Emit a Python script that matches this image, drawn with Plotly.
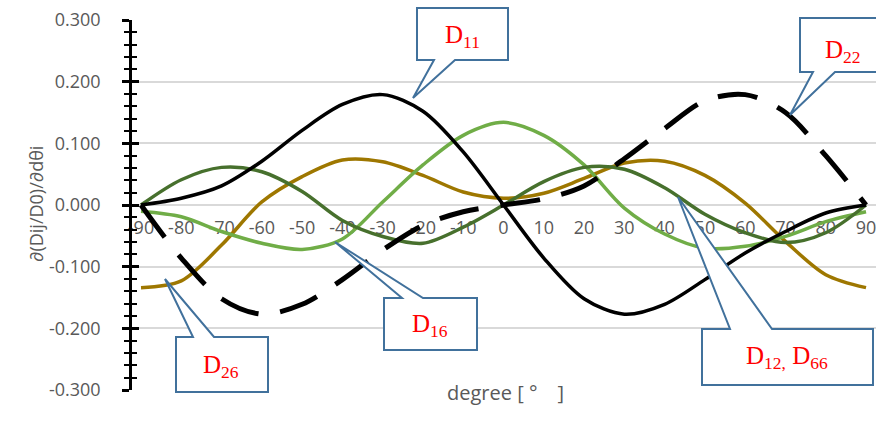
import plotly.graph_objects as go

# ---- data -------------------------------------------------------------
angles = list(range(-90, 91, 10))

d11 = [0.000, 0.011, 0.031, 0.071, 0.121, 0.163, 0.179, 0.152, 0.086, 0.000,
       -0.086, -0.152, -0.177, -0.161, -0.121, -0.078, -0.043, -0.013, 0.000]
d22 = [0.000, -0.086, -0.152, -0.177, -0.161, -0.121, -0.073, -0.033, -0.011, 0.000,
       0.010, 0.031, 0.075, 0.124, 0.169, 0.179, 0.150, 0.080, 0.000]
d16 = [-0.010, -0.019, -0.043, -0.062, -0.072, -0.055, 0.005, 0.065, 0.113, 0.134,
       0.113, 0.065, -0.005, -0.047, -0.070, -0.067, -0.051, -0.027, -0.011]
d26 = [-0.134, -0.123, -0.065, 0.005, 0.046, 0.073, 0.070, 0.048, 0.021, 0.011,
       0.019, 0.043, 0.068, 0.071, 0.048, 0.003, -0.059, -0.113, -0.134]
d12 = [0.000, 0.041, 0.061, 0.054, 0.022, -0.025, -0.051, -0.062, -0.036, 0.000,
       0.038, 0.061, 0.058, 0.028, -0.015, -0.045, -0.061, -0.045, 0.000]

x_ticks = angles
x_tick_text = [str(a) for a in angles]
y_ticks = [0.3, 0.2, 0.1, 0.0, -0.1, -0.2, -0.3]
y_tick_text = ["0.300", "0.200", "0.100", "0.000", "-0.100", "-0.200", "-0.300"]

# ---- page geometry ------------------------------------------------------
W, H = 876, 425
ML, MR, MT, MB = 132, 0, 20, 35
PW, PH = W - ML - MR, H - MT - MB


def px(x):
    return (x - ML) / PW


def py(y):
    return (H - MB - y) / PH


GRAY = "#595959"
FONT = "Open Sans"

fig = go.Figure()

series = [
    (d26, "#9E7700", 3.5, "solid"),
    (d16, "#70AD47", 3.5, "solid"),
    (d12, "#47702D", 3.5, "solid"),
    (d11, "#000000", 3.5, "solid"),
    (d22, "#000000", 5, "40px,22px"),
]
for vals, color, width, dash in series:
    fig.add_trace(go.Scatter(
        x=angles, y=vals, mode="lines",
        line=dict(color=color, width=width, dash=dash, shape="spline", smoothing=0.9),
        hoverinfo="skip", showlegend=False,
    ))

# companion trace so the inner tick axis is drawn
fig.add_trace(go.Scatter(x=[], y=[], yaxis="y2", showlegend=False, hoverinfo="skip"))

# ---- callouts -----------------------------------------------------------
callouts = [
    ("D<sub>11</sub>", (462, 37),
     [(417, 8), (508, 8), (508, 60), (455, 60), (413, 98), (434, 60), (417, 60)]),
    ("D<sub>22</sub>", (843, 51),
     [(800, 18), (890, 18), (890, 72), (835, 72), (790, 115), (813, 72), (800, 72)]),
    ("D<sub>26</sub>", (221, 366),
     [(176, 337), (193, 337), (165, 279), (214, 337), (268, 337), (268, 392), (176, 392)]),
    ("D<sub>16</sub>", (430, 325),
     [(384, 298), (402, 298), (335, 242), (423, 298), (477, 298), (477, 350), (384, 350)]),
    ("D<sub>12,</sub> D<sub>66</sub>", (787, 357),
     [(702, 329), (730, 329), (678, 197), (772, 329), (873, 329), (873, 385), (702, 385)]),
]
shapes = []
annotations = []
for text, (cx, cy), pts in callouts:
    path = "M " + " L ".join(f"{px(a):.5f},{py(b):.5f}" for a, b in pts) + " Z"
    shapes.append(dict(type="path", xref="paper", yref="paper", path=path,
                       fillcolor="white", line=dict(color="#41719C", width=2),
                       layer="above"))
    annotations.append(dict(x=px(cx), y=py(cy), xref="paper", yref="paper",
                            text=text, showarrow=False, xanchor="center", yanchor="middle",
                            font=dict(family="Liberation Serif", size=25, color="#FF0000")))

annotations.append(dict(x=px(22), y=py(204), xref="paper", yref="paper",
                        text="∂(Dij/D0)/∂dθi", textangle=-90, showarrow=False,
                        font=dict(family=FONT, size=18, color=GRAY)))
annotations.append(dict(x=px(505), y=py(408), xref="paper", yref="paper",
                        text="degree [ °　]", showarrow=False,
                        font=dict(family=FONT, size=20, color=GRAY)))

fig.update_layout(
    width=W, height=H,
    margin=dict(l=ML, r=MR, t=MT, b=MB, pad=0),
    paper_bgcolor="white", plot_bgcolor="white",
    shapes=shapes, annotations=annotations,
    xaxis=dict(
        range=[-92.234, 92.48], tickmode="array", tickvals=x_ticks, ticktext=x_tick_text,
        anchor="free", position=0.5, showline=False, showgrid=False, zeroline=False,
        ticks="", ticklabelstandoff=10, ticklabeloverflow="allow", layer="below traces",
        tickfont=dict(family=FONT, size=18, color=GRAY),
    ),
    yaxis=dict(
        range=[-0.3, 0.3], tickmode="array", tickvals=y_ticks, ticktext=y_tick_text,
        showline=True, linecolor="black", linewidth=2.5,
        ticks="outside", ticklen=7, tickwidth=2.5, tickcolor="black",
        minor=dict(dtick=0.02, ticks="outside", ticklen=5, tickwidth=2, tickcolor="black"),
        showgrid=True, gridcolor="#D9D9D9", gridwidth=1.5,
        zeroline=True, zerolinecolor="#D9D9D9", zerolinewidth=2,
        ticklabelstandoff=18,
        tickfont=dict(family=FONT, size=18, color=GRAY),
    ),
    yaxis2=dict(
        range=[-0.3, 0.3], overlaying="y", side="left", anchor="x",
        tickmode="array", tickvals=y_ticks, showticklabels=False,
        ticks="inside", ticklen=7, tickwidth=2.5, tickcolor="black",
        minor=dict(dtick=0.02, ticks="inside", ticklen=5, tickwidth=2, tickcolor="black"),
        showgrid=False, zeroline=False, showline=False,
    ),
)

fig.write_html("out.html")
